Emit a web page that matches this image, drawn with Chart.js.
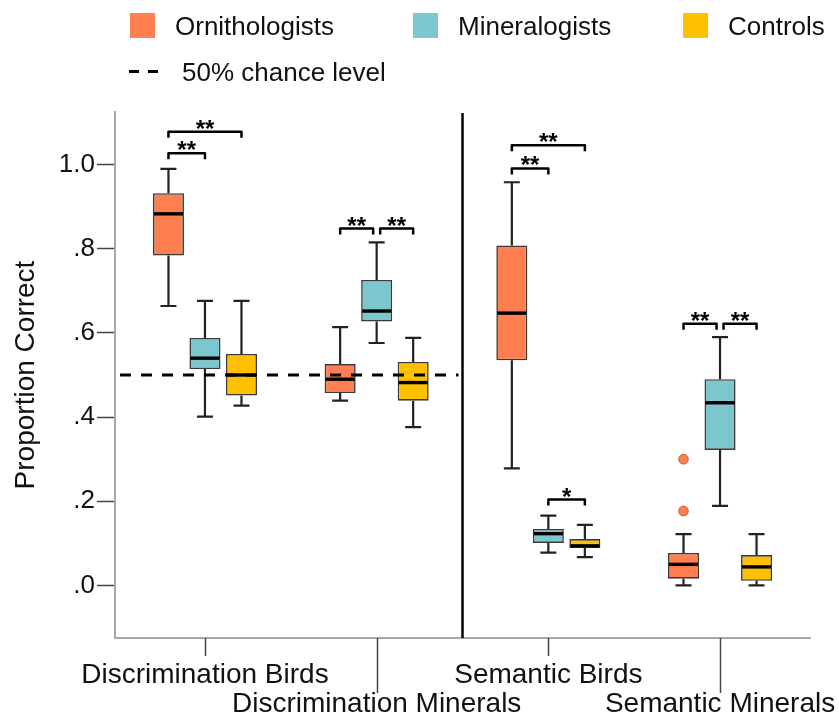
<!DOCTYPE html>
<html>
<head>
<meta charset="utf-8">
<script src="https://cdn.jsdelivr.net/npm/chart.js@4.4.1/dist/chart.umd.min.js"></script>
<style>
  html, body { margin: 0; padding: 0; background: #ffffff; }
  #wrap { width: 839px; height: 713px; }
</style>
</head>
<body>
<div id="wrap"><canvas id="chart" width="839" height="713"></canvas></div>
<script>
// Tasks along the x axis
const categories = ['Discrimination Birds', 'Discrimination Minerals', 'Semantic Birds', 'Semantic Minerals'];
const groups = ['Ornithologists', 'Mineralogists', 'Controls'];

// Five-number summaries per task: [lower whisker, Q1, median, Q3, upper whisker]
const ornithologists = [
  [0.664, 0.784, 0.883, 0.932, 0.990],
  [0.439, 0.457, 0.490, 0.526, 0.614],
  [0.278, 0.535, 0.647, 0.808, 0.958],
  [0.000, 0.016, 0.050, 0.077, 0.122]
];
const mineralogists = [
  [0.401, 0.514, 0.540, 0.588, 0.676],
  [0.576, 0.627, 0.652, 0.726, 0.815],
  [0.078, 0.101, 0.123, 0.134, 0.166],
  [0.189, 0.322, 0.434, 0.490, 0.590]
];
const controls = [
  [0.427, 0.451, 0.500, 0.550, 0.676],
  [0.376, 0.439, 0.482, 0.531, 0.588],
  [0.067, 0.089, 0.094, 0.110, 0.144],
  [0.000, 0.011, 0.044, 0.072, 0.122]
];
// Points beyond the whiskers (ornithologists only)
const ornithologistOutliers = [[], [], [], [0.177, 0.300]];

const yTicks = [0, 0.2, 0.4, 0.6, 0.8, 1.0];
const chanceLevel = 0.5;

// Pairwise comparisons: [task, group A, group B, bracket height, marker]
const comparisons = [
  [0, 0, 1, 1.027, '**'],
  [0, 0, 2, 1.078, '**'],
  [1, 0, 1, 0.848, '**'],
  [1, 1, 2, 0.848, '**'],
  [2, 0, 1, 0.991, '**'],
  [2, 0, 2, 1.046, '**'],
  [2, 1, 2, 0.204, '*'],
  [3, 0, 1, 0.622, '**'],
  [3, 1, 2, 0.622, '**']
];

const summaries = [ornithologists, mineralogists, controls];
const outliers = [ornithologistOutliers, [[], [], [], []], [[], [], [], []]];
const groupColors = ['#FF7F50', '#7CC6CE', '#FFC000'];
const FONT = '"Liberation Sans", Arial, Helvetica, sans-serif';

Chart.defaults.font.family = FONT;
Chart.defaults.color = '#111111';

// Whiskers, medians, outliers, chance line, task divider and significance brackets
const boxPlotExtras = {
  id: 'boxPlotExtras',
  afterDatasetsDraw(chart) {
    const { ctx, scales: { x, y }, chartArea } = chart;
    ctx.save();

    summaries.forEach((rows, d) => {
      const meta = chart.getDatasetMeta(d);
      rows.forEach((s, i) => {
        const bar = meta.data[i];
        const cx = bar.x;
        const half = bar.width / 2;
        const [lo, q1, med, q3, hi] = s;
        // whiskers
        ctx.strokeStyle = '#222222';
        ctx.lineWidth = 2.2;
        ctx.lineCap = 'butt';
        ctx.beginPath();
        ctx.moveTo(cx, y.getPixelForValue(q3));
        ctx.lineTo(cx, y.getPixelForValue(hi));
        ctx.moveTo(cx - 8, y.getPixelForValue(hi));
        ctx.lineTo(cx + 8, y.getPixelForValue(hi));
        ctx.moveTo(cx, y.getPixelForValue(q1));
        ctx.lineTo(cx, y.getPixelForValue(lo));
        ctx.moveTo(cx - 8, y.getPixelForValue(lo));
        ctx.lineTo(cx + 8, y.getPixelForValue(lo));
        ctx.stroke();
        // median
        ctx.strokeStyle = '#000000';
        ctx.lineWidth = 3.4;
        ctx.beginPath();
        ctx.moveTo(cx - half + 1, y.getPixelForValue(med));
        ctx.lineTo(cx + half - 1, y.getPixelForValue(med));
        ctx.stroke();
        // outliers
        outliers[d][i].forEach(v => {
          ctx.beginPath();
          ctx.arc(cx, y.getPixelForValue(v), 4.7, 0, Math.PI * 2);
          ctx.fillStyle = groupColors[d];
          ctx.fill();
          ctx.strokeStyle = '#D8653C';
          ctx.lineWidth = 1.2;
          ctx.stroke();
        });
      });
    });

    // divider between discrimination and semantic tasks
    const divX = x.getPixelForValue(1.5);
    ctx.strokeStyle = '#000000';
    ctx.lineWidth = 2.5;
    ctx.beginPath();
    ctx.moveTo(divX, chartArea.top + 1);
    ctx.lineTo(divX, chartArea.bottom);
    ctx.stroke();

    // chance level
    const cy = y.getPixelForValue(chanceLevel);
    ctx.setLineDash([11, 10]);
    ctx.lineWidth = 3;
    ctx.beginPath();
    ctx.moveTo(chartArea.left + 5, cy);
    ctx.lineTo(divX - 4, cy);
    ctx.stroke();
    ctx.setLineDash([]);

    // significance brackets
    comparisons.forEach(([t, a, b, level, mark]) => {
      let x1 = chart.getDatasetMeta(a).data[t].x;
      let x2 = chart.getDatasetMeta(b).data[t].x;
      const shared = (g) => comparisons.some(o => o[0] === t && o[3] === level &&
        !(o[1] === a && o[2] === b) && (o[1] === g || o[2] === g));
      if (shared(a)) x1 += 3.5;
      if (shared(b)) x2 -= 3.5;
      const py = y.getPixelForValue(level);
      ctx.strokeStyle = '#000000';
      ctx.lineWidth = 2.5;
      ctx.lineJoin = 'round';
      ctx.beginPath();
      ctx.moveTo(x1, py + 6);
      ctx.lineTo(x1, py);
      ctx.lineTo(x2, py);
      ctx.lineTo(x2, py + 6);
      ctx.stroke();
      ctx.fillStyle = '#000000';
      ctx.font = 'bold 24px ' + FONT;
      ctx.textAlign = 'center';
      ctx.textBaseline = 'alphabetic';
      ctx.fillText(mark, (x1 + x2) / 2, py + 5);
    });
    ctx.restore();
  },
  afterDraw(chart) {
    const { ctx, scales: { x }, chartArea } = chart;
    ctx.save();
    // staggered tick marks under the tasks
    ctx.strokeStyle = '#444444';
    ctx.lineWidth = 1.5;
    categories.forEach((c, i) => {
      const px = Math.round(x.getPixelForValue(i)) + 0.5;
      ctx.beginPath();
      ctx.moveTo(px, chartArea.bottom);
      ctx.lineTo(px, chartArea.bottom + (i % 2 ? 55 : 18));
      ctx.stroke();
    });

    // legend
    ctx.font = '26px ' + FONT;
    ctx.textAlign = 'left';
    ctx.textBaseline = 'alphabetic';
    const boxX = [130, 413, 683];
    groups.forEach((g, i) => {
      ctx.fillStyle = groupColors[i];
      ctx.fillRect(boxX[i], 13, 25, 25);
      ctx.fillStyle = '#111111';
      ctx.fillText(g, boxX[i] + 45, 35);
    });
    ctx.strokeStyle = '#000000';
    ctx.lineWidth = 3;
    ctx.beginPath();
    ctx.moveTo(129, 71.5); ctx.lineTo(139, 71.5);
    ctx.moveTo(148, 71.5); ctx.lineTo(158, 71.5);
    ctx.stroke();
    ctx.fillStyle = '#111111';
    ctx.fillText('50% chance level', 182, 81);
    ctx.restore();
  }
};

const datasets = groups.map((g, d) => ({
  label: g,
  data: summaries[d].map((s, i) => ({ x: i, y: [s[1], s[3]] })),
  backgroundColor: groupColors[d],
  borderColor: '#3a3a3a',
  borderWidth: 1.6,
  borderSkipped: false,
  categoryPercentage: 0.638,
  barPercentage: 0.85
}));

new Chart(document.getElementById('chart'), {
  type: 'bar',
  data: { datasets },
  plugins: [boxPlotExtras],
  options: {
    responsive: false,
    animation: false,
    events: [],
    layout: { padding: { top: 112, right: 29, bottom: 0, left: 0 } },
    plugins: { legend: { display: false }, tooltip: { enabled: false } },
    scales: {
      x: {
        type: 'linear',
        offset: false,
        min: -0.524,
        max: 3.524,
        afterBuildTicks: (scale) => { scale.ticks = categories.map((c, i) => ({ value: i })); },
        afterFit: (scale) => { scale.height = 75; scale.paddingLeft = 0; scale.paddingRight = 0; },
        grid: { display: false, offset: false },
        border: { display: true, color: '#a8a8a8', width: 2 },
        ticks: {
          autoSkip: false,
          maxRotation: 0,
          minRotation: 0,
          padding: 14.5,
          font: { size: 28, lineHeight: '29px' },
          color: '#111111',
          callback: (v) => (v % 2 ? ['', categories[v]] : categories[v])
        }
      },
      y: {
        min: -0.125,
        max: 1.125,
        afterBuildTicks: (scale) => { scale.ticks = yTicks.map(v => ({ value: v })); },
        afterFit: (scale) => { scale.width = 115; scale.paddingTop = 0; scale.paddingBottom = 0; },
        grid: { display: true, drawOnChartArea: false, drawTicks: true, tickLength: 18, tickColor: '#444444', tickWidth: 1.5 },
        border: { display: true, color: '#a8a8a8', width: 2 },
        ticks: {
          padding: 2,
          font: { size: 26 },
          color: '#111111',
          callback: (v) => (v === 1 ? '1.0' : v.toFixed(1).replace(/^0/, ''))
        },
        title: {
          display: true,
          text: 'Proportion Correct',
          font: { size: 28 },
          color: '#111111',
          padding: { top: 9, bottom: 0 }
        }
      }
    }
  }
});
</script>
</body>
</html>
